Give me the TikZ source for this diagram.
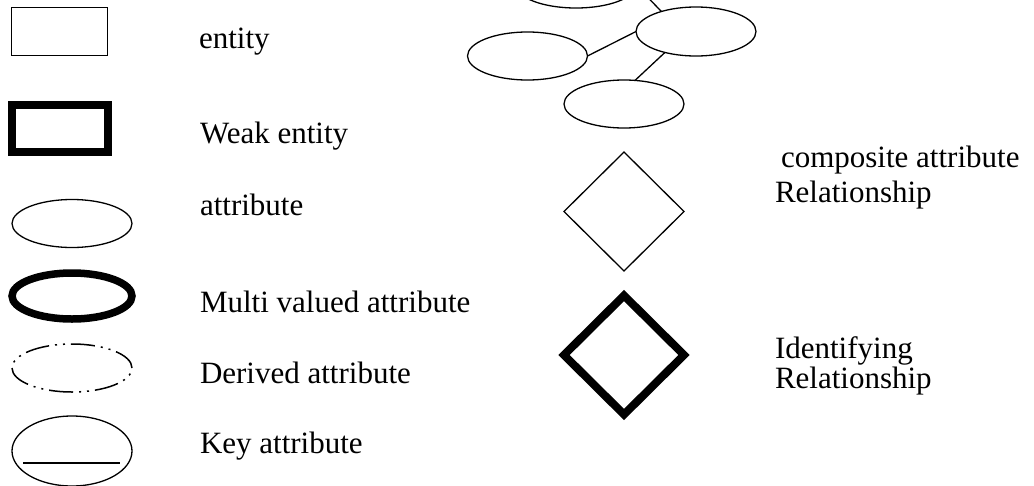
\documentclass[tikz,border=0pt]{standalone}
\usepackage{fontspec}
\setmainfont{Liberation Serif}
\usetikzlibrary{shapes.geometric}

\begin{document}
\begin{tikzpicture}[x=1pt, y=1pt, line width=1.3pt,
	every node/.style={inner sep=0pt, outer sep=0pt},
	legend/.style={anchor=base west, font=\fontsize{31}{30}\selectfont, align=left},
	attr/.style={draw, ellipse, minimum width=120pt, minimum height=48pt},
	rel/.style={draw, diamond, minimum width=120pt, minimum height=119pt}]
	\useasboundingbox (0,0) rectangle (1034,-485);
	\clip (0,0) rectangle (1034,-485);
	% left column
	\node[draw, minimum width=96pt, minimum height=48pt] (entity) at (59.5,-31.5) {};
	\node[draw, line width=7.5pt, minimum width=96pt, minimum height=47pt] (weak) at (60,-128.5) {};
	\node[attr] (attribute) at (72,-223.5) {};
	\node[attr, line width=7.5pt, minimum height=46pt] (multi) at (72,-296) {};
	\node[attr, line width=1.5pt, dash pattern=on 24pt off 6pt on 2pt off 6pt on 2pt off 6pt] (derived) at (72,-368) {};
	\node[attr, minimum height=70pt] (key) at (72,-451) {};
	\draw ([shift={(-49pt,-12pt)}]key.center) -- ([shift={(48pt,-12pt)}]key.center);
	\node[legend] (entityText) at (199,-48) {entity};
	\node[legend] (weakText) at (200,-143) {Weak entity};
	\node[legend] (attributeText) at (200,-215) {attribute};
	\node[legend] (multiText) at (200,-312) {Multi valued attribute};
	\node[legend] (derivedText) at (200,-383) {Derived attribute};
	\node[legend] (keyText) at (200,-453) {Key attribute};
	% composite attribute
	\node[attr, minimum height=46pt] (compTop) at (576,15) {};
	\node[attr, minimum height=49pt] (compRoot) at (696,-31.5) {};
	\node[attr] (compLeft) at (527.5,-56) {};
	\node[attr] (compBottom) at (624,-104) {};
	\draw (compRoot.150) -- (compTop.east);
	\draw (compLeft.east) -- (compRoot.west);
	\draw (compBottom.65) -- (compRoot.214);
	\node[legend] (compositeText) at (781,-167) {composite attribute};
	% relationships
	\node[rel] (relationship) at (624,-211.5) {};
	\node[legend] (relationshipText) at (775,-202) {Relationship};
	\node[rel, line width=8pt] (identifying) at (624,-355) {};
	\node[legend] (identifyingText) at (775,-388) {Identifying\\Relationship};
\end{tikzpicture}
\end{document}
